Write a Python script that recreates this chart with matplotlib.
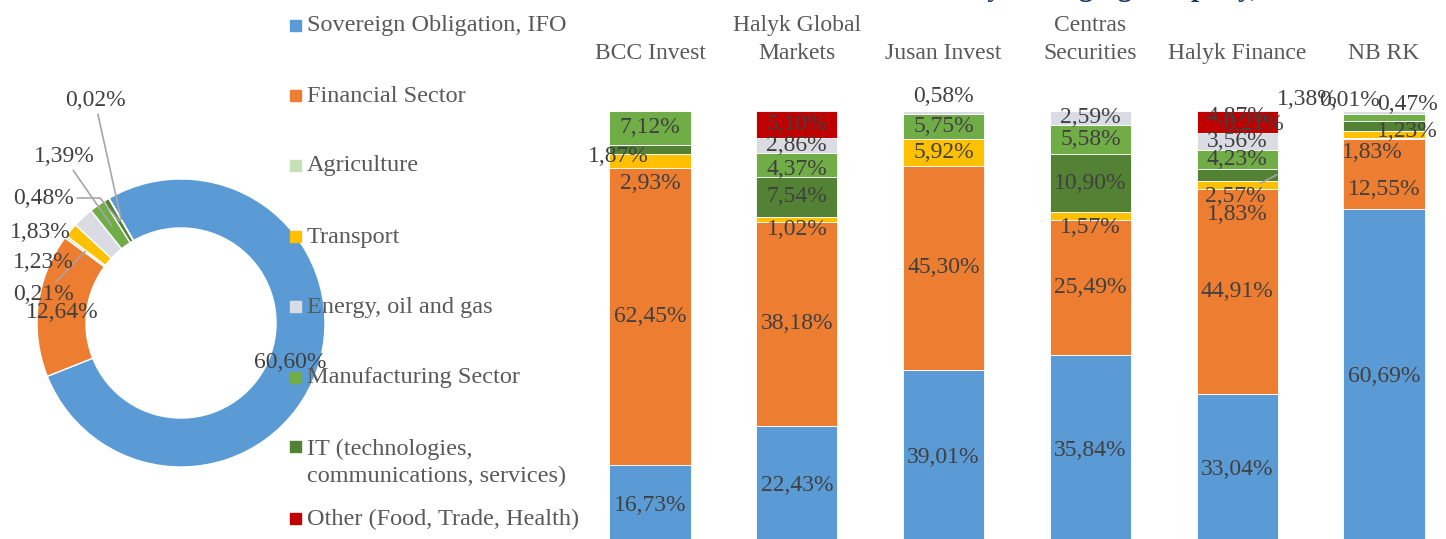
import numpy as np
import matplotlib.pyplot as plt

plt.rcParams['font.family'] = ['Liberation Serif', 'DejaVu Serif']

# categories (legend order) and their colours
categories = ['Sovereign Obligation, IFO', 'Financial Sector', 'Agriculture', 'Transport',
              'Energy, oil and gas', 'Manufacturing Sector',
              'IT (technologies,\ncommunications, services)', 'Other (Food, Trade, Health)']
cat_colors = ['#5B9BD5', '#ED7D31', '#C5E0B4', '#FFC000', '#D9DCE2', '#70AD47', '#548235', '#C00000']

# donut: overall structure, legend order
donut_values = [60.60, 12.64, 0.21, 1.23, 1.83, 1.39, 0.48, 0.02]

# bars: structure by managing company, %
companies = ['BCC Invest', 'Halyk Global\nMarkets', 'Jusan Invest', 'Centras\nSecurities',
             'Halyk Finance', 'NB RK']
sovereign = [16.73, 22.43, 39.01, 35.84, 33.04, 60.69]
financial = [62.45, 38.18, 45.30, 25.49, 44.91, 12.55]
agriculture = [0, 0, 0, 0, 0, 0.21]
transport = [2.93, 1.02, 5.92, 1.57, 1.83, 1.23]
energy = [0, 2.86, 0.58, 2.59, 3.56, 0.47]
manufacturing = [7.12, 4.37, 5.75, 5.58, 4.23, 1.38]
it_sector = [1.87, 7.54, 0, 10.90, 2.57, 1.83]
other = [0, 5.10, 0, 0, 4.87, 0.01]


def pct(v):
    return f"{v:.2f}%".replace('.', ',')


W, H = 1446, 539
fig = plt.figure(figsize=(W / 100, H / 100), dpi=100)
label_col = '#404040'
text_col = '#595959'

# ---------- donut ----------
cx, cy, R = 181, 323, 144
axp = fig.add_axes([(cx - R) / W, (H - cy - R) / H, 2 * R / W, 2 * R / H])
wedges, _ = axp.pie(donut_values, colors=cat_colors, startangle=120, counterclock=False,
                    wedgeprops=dict(width=0.34, edgecolor='white', linewidth=1))
axp.set_xlim(-1, 1)
axp.set_ylim(-1, 1)

# label spots (pixels) for the donut labels, legend order
donut_pos = [(290, 362), (62, 312), (43, 295), (43, 263), (40, 233), (64, 157), (44, 198), (95, 101)]
leaders = {2: 'arc3', 5: 'arc3', 6: 'angle,angleA=0,angleB=130,rad=0', 7: 'arc3'}
for i, (w, v) in enumerate(zip(wedges, donut_values)):
    px, py = donut_pos[i]
    tx, ty = (px - cx) / R, (cy - py) / R
    if i in leaders:
        a = np.deg2rad((w.theta1 + w.theta2) / 2)
        axp.annotate(pct(v), xy=(0.83 * np.cos(a), 0.83 * np.sin(a)), xytext=(tx, ty),
                     ha='center', va='center', fontsize=17, color=label_col,
                     arrowprops=dict(arrowstyle='-', color='#A6A6A6', lw=1.2,
                                     connectionstyle=leaders[i], shrinkA=0, shrinkB=0))
    else:
        axp.text(tx, ty, pct(v), ha='center', va='center', fontsize=17, color=label_col)

# ---------- legend ----------
leg_y = [26, 96, 166, 237, 307, 378, 447, 519]
for i, name in enumerate(categories):
    y = leg_y[i]
    fig.patches.append(plt.Rectangle((290 / W, 1 - (y + 5) / H), 11 / W, 11 / H,
                                     transform=fig.transFigure, color=cat_colors[i]))
    ty = y + 16 if '\n' in name else y
    fig.text(307 / W, 1 - ty / H, name, ha='left', va='center', fontsize=17.5,
             color=text_col, linespacing=1.35)

# ---------- stacked bars ----------
x0, pitch = 650, 146.8
axb = fig.add_axes([(x0 - pitch / 2) / W, -6 / H, (W - x0 + pitch / 2) / W, 434 / H])
xs = np.arange(len(companies))

stack = [(0, sovereign), (1, financial), (2, agriculture), (3, transport),
         (6, it_sector), (5, manufacturing), (4, energy), (7, other)]
totals = np.sum([s for _, s in stack], axis=0)

# label nudges in pixels (right, down) where Excel moved them
nudge = {(0, 3): (0, 23), (0, 6): (-32, 7),
         (1, 3): (0, 10), (1, 5): (0, 4),
         (2, 4): (0, -16),
         (3, 3): (0, 11),
         (4, 3): (0, 30), (4, 6): (0, 22), (4, 7): (0, -6),
         (5, 1): (0, 15), (5, 2): (-131, -14), (5, 3): (23, -3), (5, 6): (-12, 26),
         (5, 5): (-77, -18), (5, 4): (24, -8), (5, 7): (-34, -11)}

bottom = np.zeros(len(companies))
for cat, vals in stack:
    vals = np.array(vals)
    share = vals / totals * 100
    axb.bar(xs, share, bottom=bottom, width=0.552, color=cat_colors[cat],
            edgecolor='white', linewidth=0.6)
    for j in range(len(companies)):
        if vals[j] <= 0:
            continue
        dx, dy = nudge.get((j, cat), (0, 0))
        mid = bottom[j] + share[j] / 2
        if (j, cat) == (4, 6):
            axb.annotate(pct(vals[j]), xy=(xs[j] + 0.27, mid), xytext=(-42, -22),
                         textcoords='offset pixels', ha='center', va='center',
                         fontsize=17, color=label_col,
                         arrowprops=dict(arrowstyle='-', color='#A6A6A6', lw=1.2,
                                         shrinkA=0, shrinkB=0))
        else:
            axb.annotate(pct(vals[j]), xy=(xs[j], mid), xytext=(dx, -dy),
                         textcoords='offset pixels', ha='center', va='center',
                         fontsize=17, color=label_col, annotation_clip=False)
    bottom += share

axb.set_xlim(-0.5, (W - x0) / pitch)
axb.set_ylim(0, 100)
axb.xaxis.tick_top()
axb.set_xticks(xs, companies)
axb.tick_params(axis='x', length=0, pad=34, labelsize=17, labelcolor=text_col)
for t in axb.get_xticklabels():
    t.set_linespacing(1.4)
axb.set_yticks([])
for s in axb.spines.values():
    s.set_visible(False)

# title, mostly cut off by the top edge
fig.text(969 / W, 1.007, 'Investment structure ', ha='right', va='baseline',
         fontsize=21, fontweight='bold', color='#1F3864')
fig.text(971 / W, 1.007, 'by managing company, %', ha='left', va='baseline',
         fontsize=21, fontweight='bold', color='#1F3864')

fig.savefig('out.png', dpi=100)
